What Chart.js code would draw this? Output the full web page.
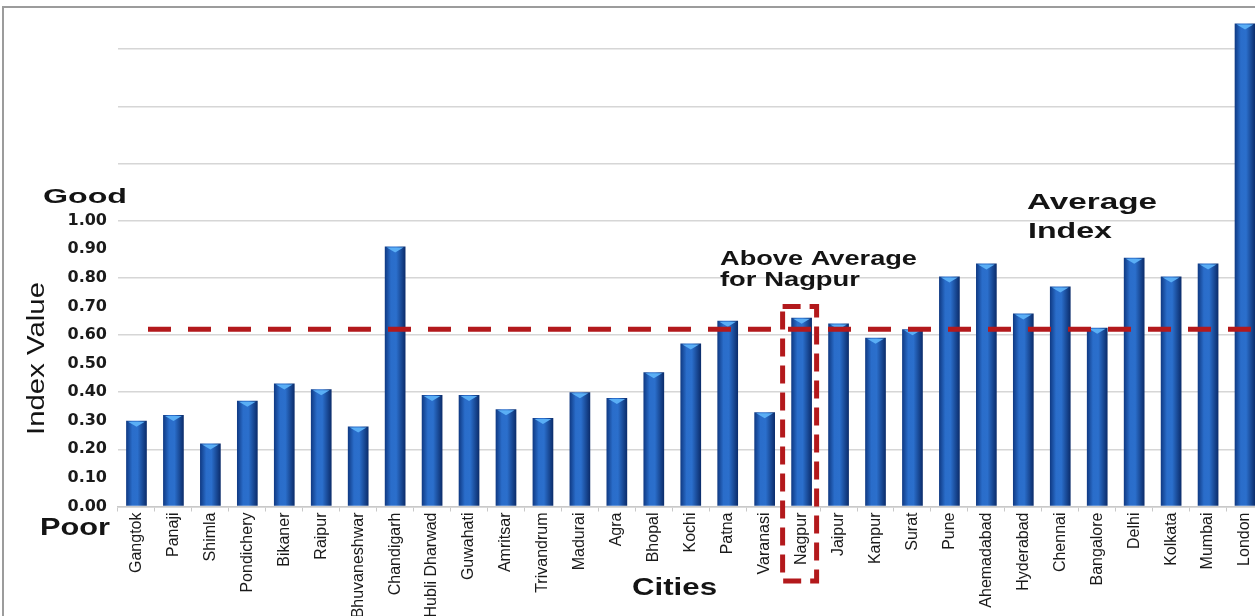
<!DOCTYPE html>
<html>
<head>
<meta charset="utf-8">
<script src="https://cdn.jsdelivr.net/npm/chart.js@4.4.1/dist/chart.umd.min.js"></script>
<style>
  html, body { margin: 0; padding: 0; background: #ffffff; overflow: hidden; }
  #wrap { position: relative; width: 1275px; height: 616px; }
</style>
</head>
<body>
<div id="wrap"><canvas id="c"></canvas></div>
<script>
// ---------------- data ----------------
const cities = ['Gangtok', 'Panaji', 'Shimla', 'Pondichery', 'Bikaner', 'Raipur', 'Bhuvaneshwar',
  'Chandigarh', 'Hubli Dharwad', 'Guwahati', 'Amritsar', 'Trivandrum', 'Madurai', 'Agra', 'Bhopal',
  'Kochi', 'Patna', 'Varanasi', 'Nagpur', 'Jaipur', 'Kanpur', 'Surat', 'Pune', 'Ahemadabad',
  'Hyderabad', 'Chennai', 'Bangalore', 'Delhi', 'Kolkata', 'Mumbai', 'London'];
const indexValues = [0.30, 0.32, 0.22, 0.37, 0.43, 0.41, 0.28,
  0.91, 0.39, 0.39, 0.34, 0.31, 0.40, 0.38, 0.47,
  0.57, 0.65, 0.33, 0.66, 0.64, 0.59, 0.62, 0.805, 0.85,
  0.675, 0.77, 0.625, 0.87, 0.805, 0.85, 1.69];
const averageIndex = 0.62;
const highlightCity = 'Nagpur';
const highlightBoxTop = 0.70;
const yTickLabels = ['0.00', '0.10', '0.20', '0.30', '0.40', '0.50', '0.60', '0.70', '0.80', '0.90', '1.00'];
const yAxisMax = 1.7;
const yTitle = 'Index Value';
const xTitle = 'Cities';
const goodLabel = 'Good';
const poorLabel = 'Poor';
const noteNagpur = ['Above Average', 'for Nagpur'];
const noteAverage = ['Average', 'Index'];

// ---------------- helpers ----------------
const SANS = '"Liberation Sans", Arial, Helvetica, sans-serif';
function fitText(ctx, text, x, y, size, weight, width, rot) {
  ctx.save();
  ctx.font = weight + ' ' + size + 'px ' + SANS;
  const w = ctx.measureText(text).width;
  ctx.translate(x, y);
  if (rot) ctx.rotate(rot);
  ctx.scale(width / w, 1);
  ctx.textAlign = 'left';
  ctx.textBaseline = 'alphabetic';
  ctx.fillStyle = '#141414';
  ctx.fillText(text, 0, 0);
  ctx.restore();
}

const decorPlugin = {
  id: 'decor',
  afterDatasetsDraw(chart) {
    const ctx = chart.ctx;
    const meta = chart.getDatasetMeta(0);
    // light bevel on top of each bar
    meta.data.forEach(bar => {
      const hw = bar.width / 2;
      ctx.save();
      ctx.fillStyle = '#5aaef5';
      ctx.beginPath();
      ctx.moveTo(bar.x - hw + 2, bar.y + 1);
      ctx.lineTo(bar.x + hw - 2, bar.y + 1);
      ctx.lineTo(bar.x, bar.y + 6);
      ctx.closePath();
      ctx.fill();
      ctx.restore();
    });
    const x = chart.scales.x, y = chart.scales.y, area = chart.chartArea;
    // average dashed line
    const ay = y.getPixelForValue(averageIndex);
    ctx.save();
    ctx.strokeStyle = '#b3191c';
    ctx.lineWidth = 5;
    ctx.setLineDash([23, 17]);
    ctx.beginPath();
    ctx.moveTo(area.left + 30, ay);
    ctx.lineTo(area.right, ay);
    ctx.stroke();
    ctx.restore();
    // highlight box around Nagpur
    const cx = x.getPixelForValue(cities.indexOf(highlightCity));
    const top = y.getPixelForValue(highlightBoxTop);
    ctx.save();
    ctx.strokeStyle = '#b3191c';
    ctx.lineWidth = 5;
    ctx.setLineDash([18, 9]);
    ctx.strokeRect(cx - 19, top, 34, 581 - top);
    ctx.restore();
  },
  afterDraw(chart) {
    const ctx = chart.ctx;
    // frame
    ctx.save();
    ctx.strokeStyle = '#9c9c9c';
    ctx.lineWidth = 2;
    ctx.beginPath();
    ctx.moveTo(3, 616);
    ctx.lineTo(3, 7);
    ctx.lineTo(chart.width, 7);
    ctx.stroke();
    ctx.restore();
    // texts
    fitText(ctx, goodLabel, 43, 202.5, 21, 'bold', 84);
    fitText(ctx, poorLabel, 40, 535, 23, 'bold', 70);
    fitText(ctx, noteNagpur[0], 720, 264.5, 20.5, 'bold', 197);
    fitText(ctx, noteNagpur[1], 720, 286, 20.5, 'bold', 140);
    fitText(ctx, noteAverage[0], 1027, 208.5, 21.5, 'bold', 130);
    fitText(ctx, noteAverage[1], 1028, 238, 21.5, 'bold', 84);
    fitText(ctx, xTitle, 632, 595, 23, 'bold', 85);
    fitText(ctx, yTitle, 43.5, 435, 23, 'normal', 153, -Math.PI / 2);
  }
};

function barGradient(context) {
  const chart = context.chart;
  if (!chart.chartArea || !chart.scales.x) return '#1f5fb8';
  const cx = chart.scales.x.getPixelForValue(context.dataIndex);
  const g = chart.ctx.createLinearGradient(cx - 10.5, 0, cx + 10.5, 0);
  g.addColorStop(0, '#0e3780');
  g.addColorStop(0.3, '#2a6dca');
  g.addColorStop(0.55, '#2b6fcc');
  g.addColorStop(1, '#0a2a68');
  return g;
}

new Chart(document.getElementById('c'), {
  type: 'bar',
  data: {
    labels: cities,
    datasets: [{
      label: yTitle,
      data: indexValues,
      backgroundColor: barGradient,
      borderWidth: 0,
      barPercentage: 0.56,
      categoryPercentage: 1.0
    }]
  },
  options: {
    responsive: true,
    maintainAspectRatio: false,
    animation: false,
    layout: { padding: { left: 0, right: 11.5, top: 17.75, bottom: 0 } },
    plugins: { legend: { display: false }, tooltip: { enabled: false }, title: { display: false } },
    scales: {
      x: {
        afterFit(scale) { scale.height = 109.5; },
        grid: { drawOnChartArea: false, drawTicks: true, tickLength: 5, color: '#c9c9c9', offset: true },
        border: { display: true, color: '#c9c9c9', width: 1.5 },
        ticks: {
          autoSkip: false, minRotation: 90, maxRotation: 90, padding: 1,
          color: '#1a1a1a',
          font: { family: SANS, size: 16 }
        }
      },
      y: {
        min: 0, max: yAxisMax,
        afterFit(scale) { scale.width = 118; },
        grid: {
          drawTicks: false,
          lineWidth: 1.5,
          color: (c) => (c.tick && Math.round(c.tick.value * 10) % 2 === 0) ? '#d6d6d6' : 'rgba(0,0,0,0)'
        },
        border: { display: false },
        ticks: {
          stepSize: 0.1,
          padding: 11,
          color: '#1a1a1a',
          font: { family: '"DejaVu Sans", sans-serif', size: 16, weight: 'bold' },
          callback: (v, i) => (i < yTickLabels.length ? yTickLabels[i] : '')
        }
      }
    }
  },
  plugins: [decorPlugin]
});
</script>
</body>
</html>
